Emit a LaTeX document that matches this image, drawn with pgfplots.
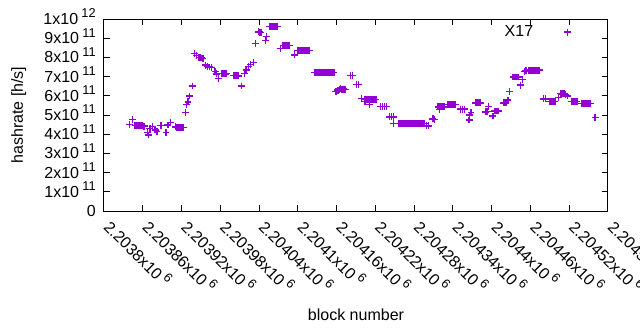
\documentclass[border=0pt]{standalone}
\usepackage{fontspec}
\setmainfont{Liberation Sans}
\usepackage{pgfplots}
\pgfplotsset{compat=1.18}
\definecolor{dv}{RGB}{148,0,211}
\newcommand\ex[1]{\hspace{2.5pt}\raisebox{5pt}[0pt][0pt]{\fontsize{9.6}{10}\selectfont #1}}
\begin{document}
\fontsize{12}{14}\selectfont
\begin{tikzpicture}
\begin{axis}[
  at={(0,0)}, anchor=south west,
  scale only axis, width=378pt, height=144pt,
  xmin=2203800, xmax=2204580, ymin=0, ymax=1e12,
  scaled ticks=false,
  xtick={2203800,2203860,2203920,2203980,2204040,2204100,2204160,2204220,2204280,2204340,2204400,2204460,2204520,2204580},
  xticklabels={2.2038x10\ex{6},2.20386x10\ex{6},2.20392x10\ex{6},2.20398x10\ex{6},2.20404x10\ex{6},2.2041x10\ex{6},2.20416x10\ex{6},2.20422x10\ex{6},2.20428x10\ex{6},2.20434x10\ex{6},2.2044x10\ex{6},2.20446x10\ex{6},2.20452x10\ex{6},2.20458x10\ex{6}},
  ytick={0,1e11,2e11,3e11,4e11,5e11,6e11,7e11,8e11,9e11,1e12},
  yticklabels={0,1x10\ex{11},2x10\ex{11},3x10\ex{11},4x10\ex{11},5x10\ex{11},6x10\ex{11},7x10\ex{11},8x10\ex{11},9x10\ex{11},1x10\ex{12}},
  tick align=inside, tick pos=both, major tick length=4.5pt,
  axis line style={line width=0.75pt},
  every tick/.style={black, line width=0.75pt},
  tick label style={font=\fontsize{12}{14}\selectfont},
  xticklabel style={inner sep=0pt, xshift=1.9pt, yshift=-9.75pt, rotate=-45, anchor=west},
  yticklabel style={anchor=east, xshift=-2pt},
  xlabel={block number}, ylabel={hashrate [h/s]},
  label style={font=\fontsize{12}{14}\selectfont},
  every axis x label/.style={at={(rel axis cs:0.5,0)}, anchor=base, yshift=-81.75pt},
  every axis y label/.style={at={(rel axis cs:0,0.5)}, xshift=-60.75pt, rotate=90, anchor=base},
  legend plot pos=right,
  legend style={draw=none, fill=none, at={(rel axis cs:0.935,0.932)}, anchor=east, font=\fontsize{12}{14}\selectfont},
  legend image code/.code={\path (0pt,0pt); \draw[#1] plot coordinates {(23.25pt,0pt)};},
]
\addplot[only marks, mark=+, mark size=2.6pt, color=dv, line width=1pt] table {
x y
2203839 4.52e11
2203844 4.78e11
2203848 4.46e11
2203850 4.44e11
2203852 4.44e11
2203854 4.45e11
2203856 4.43e11
2203858 4.44e11
2203860 4.44e11
2203862 4.42e11
2203867 4.08e11
2203869 3.96e11
2203871 4.31e11
2203875 4.39e11
2203879 4.22e11
2203882 4.13e11
2203887 4.47e11
2203889 4.44e11
2203896 4.08e11
2203899 4.48e11
2203903 4.62e11
2203911 4.38e11
2203913 4.36e11
2203915 4.36e11
2203917 4.35e11
2203919 4.36e11
2203921 4.36e11
2203923 4.36e11
2203926 5.14e11
2203928 5.56e11
2203930 5.68e11
2203932 5.99e11
2203937 6.51e11
2203940 8.21e11
2203943 8.09e11
2203947 8.00e11
2203949 7.98e11
2203951 7.97e11
2203953 7.96e11
2203957 7.60e11
2203960 7.52e11
2203963 7.50e11
2203966 7.48e11
2203972 7.26e11
2203974 7.14e11
2203977 6.91e11
2203982 7.16e11
2203984 7.15e11
2203986 7.15e11
2203988 7.14e11
2203990 7.15e11
2204000 7.06e11
2204002 7.05e11
2204004 7.05e11
2204006 7.05e11
2204008 7.04e11
2204013 6.51e11
2204017 7.17e11
2204020 7.34e11
2204024 7.52e11
2204027 7.64e11
2204031 7.73e11
2204034 8.73e11
2204039 9.33e11
2204041 9.32e11
2204043 9.30e11
2204050 8.87e11
2204052 9.08e11
2204056 9.62e11
2204058 9.62e11
2204060 9.62e11
2204062 9.62e11
2204064 9.62e11
2204066 9.62e11
2204068 9.62e11
2204073 8.47e11
2204077 8.62e11
2204079 8.62e11
2204081 8.62e11
2204083 8.62e11
2204085 8.62e11
2204087 8.62e11
2204095 8.13e11
2204100 8.37e11
2204102 8.37e11
2204104 8.37e11
2204106 8.37e11
2204108 8.37e11
2204110 8.37e11
2204112 8.37e11
2204114 8.37e11
2204116 8.37e11
2204118 8.37e11
2204126 7.23e11
2204128 7.23e11
2204130 7.23e11
2204132 7.23e11
2204134 7.23e11
2204136 7.23e11
2204138 7.23e11
2204140 7.23e11
2204142 7.23e11
2204144 7.23e11
2204146 7.23e11
2204148 7.23e11
2204150 7.23e11
2204152 7.23e11
2204154 7.23e11
2204156 7.23e11
2204159 6.21e11
2204162 6.30e11
2204164 6.34e11
2204166 6.36e11
2204168 6.33e11
2204170 6.35e11
2204172 6.32e11
2204174 6.34e11
2204182 7.06e11
2204185 7.06e11
2204191 6.60e11
2204194 6.58e11
2204199 5.87e11
2204203 5.80e11
2204204 5.69e11
2204205 5.80e11
2204207 5.80e11
2204209 5.80e11
2204211 5.56e11
2204211 5.80e11
2204213 5.80e11
2204215 5.80e11
2204217 5.80e11
2204219 5.80e11
2204221 5.80e11
2204228 5.43e11
2204231 5.43e11
2204234 5.43e11
2204237 5.43e11
2204242 4.90e11
2204245 4.90e11
2204248 4.90e11
2204248 4.57e11
2204256 4.55e11
2204258 4.55e11
2204260 4.55e11
2204262 4.55e11
2204264 4.55e11
2204266 4.55e11
2204268 4.55e11
2204270 4.55e11
2204272 4.55e11
2204274 4.55e11
2204276 4.55e11
2204278 4.55e11
2204280 4.55e11
2204282 4.55e11
2204284 4.55e11
2204286 4.55e11
2204288 4.55e11
2204290 4.55e11
2204292 4.55e11
2204294 4.55e11
2204296 4.55e11
2204299 4.43e11
2204302 4.43e11
2204309 4.80e11
2204312 4.78e11
2204317 5.42e11
2204319 5.42e11
2204319 5.30e11
2204321 5.42e11
2204323 5.42e11
2204325 5.42e11
2204327 5.42e11
2204332 5.55e11
2204334 5.55e11
2204336 5.55e11
2204338 5.55e11
2204340 5.55e11
2204342 5.55e11
2204344 5.55e11
2204352 5.31e11
2204355 5.31e11
2204358 5.31e11
2204365 4.74e11
2204366 5.00e11
2204368 5.12e11
2204375 5.63e11
2204377 5.63e11
2204379 5.63e11
2204381 5.63e11
2204383 5.63e11
2204390 5.16e11
2204393 5.17e11
2204395 5.43e11
2204402 4.95e11
2204405 5.21e11
2204407 5.21e11
2204409 5.21e11
2204411 5.21e11
2204419 5.63e11
2204422 5.63e11
2204425 5.78e11
2204428 6.21e11
2204433 6.98e11
2204435 6.98e11
2204437 6.98e11
2204439 6.98e11
2204441 6.98e11
2204445 6.56e11
2204448 6.86e11
2204451 7.26e11
2204453 7.30e11
2204458 7.34e11
2204460 7.34e11
2204462 7.34e11
2204464 7.34e11
2204466 7.34e11
2204468 7.34e11
2204470 7.34e11
2204472 7.34e11
2204474 7.34e11
2204480 5.84e11
2204483 5.84e11
2204490 5.71e11
2204492 5.71e11
2204494 5.71e11
2204496 5.71e11
2204498 5.71e11
2204503 5.92e11
2204507 6.13e11
2204509 6.10e11
2204512 6.12e11
2204514 6.08e11
2204517 5.99e11
2204524 5.71e11
2204526 5.71e11
2204528 5.71e11
2204530 5.71e11
2204532 5.71e11
2204539 5.59e11
2204541 5.59e11
2204543 5.59e11
2204545 5.59e11
2204547 5.59e11
2204549 5.59e11
2204551 5.59e11
2204553 5.59e11
2204560 4.88e11
};
\addlegendentry{X17}
\end{axis}
\pgfresetboundingbox
\path[use as bounding box] (-78pt,-89.25pt) rectangle (402pt,158.25pt);
\end{tikzpicture}
\end{document}
